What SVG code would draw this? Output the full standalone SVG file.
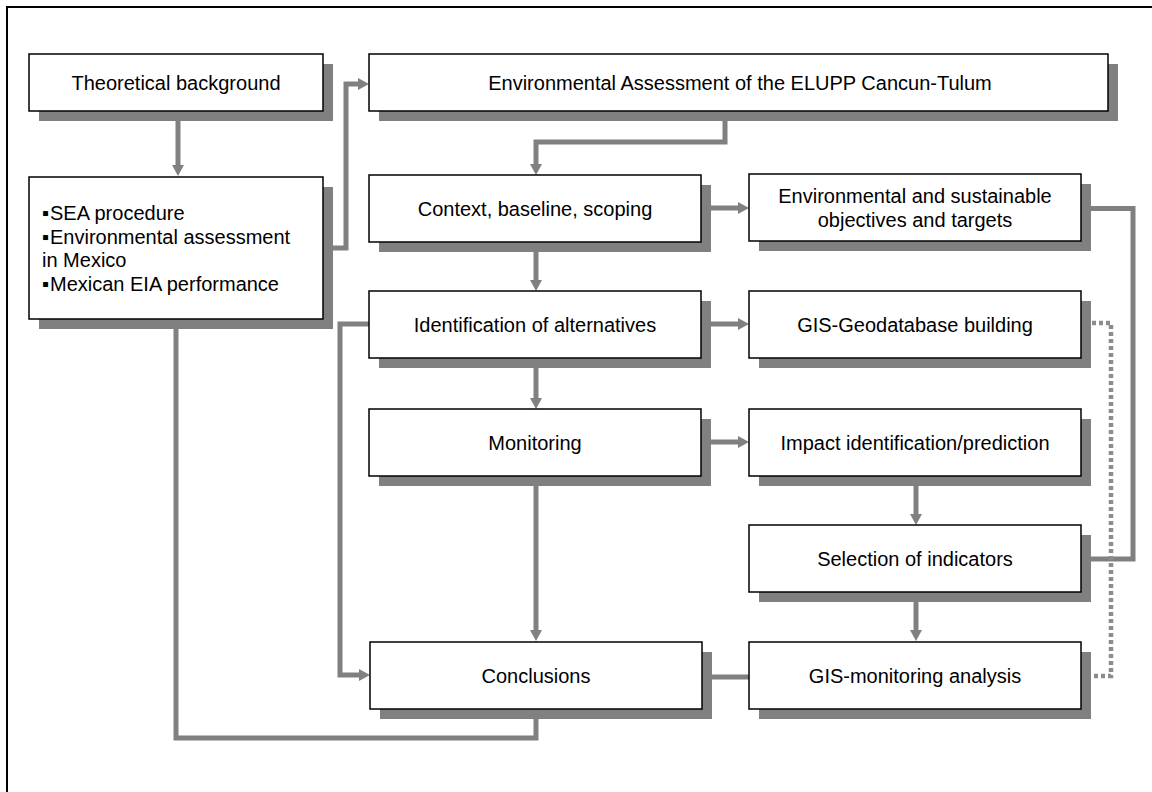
<svg xmlns="http://www.w3.org/2000/svg" width="1152" height="792" viewBox="0 0 1152 792">
<defs>
<style>
.sh{fill:#808080}
.bx{fill:#fff;stroke:#000;stroke-width:1.5}
.t{font-family:"Liberation Sans",Arial,sans-serif;font-size:20px;fill:#000;text-anchor:middle}
.tl{font-family:"Liberation Sans",Arial,sans-serif;font-size:20px;fill:#000}
.c{fill:none;stroke:#808080;stroke-width:5}
.a{marker-end:url(#ah)}
.d{fill:none;stroke:#8c8c8c;stroke-width:4.5;stroke-dasharray:4 3}
</style>
<marker id="ah" viewBox="0 0 11 12" refX="0" refY="6" markerWidth="11" markerHeight="12" markerUnits="userSpaceOnUse" orient="auto">
<path d="M0,0 L11,6 L0,12 z" fill="#808080"/>
</marker>
</defs>
<rect width="1152" height="792" fill="#fff"/>
<path d="M7,800 V7 H1160" fill="none" stroke="#000" stroke-width="2"/>
<g id="connectors">
<path class="c a" d="M178,111 V165"/>
<path class="c a" d="M323,248 H346 V84 H358"/>
<path class="c a" d="M725,111 V142 H536 V164"/>
<path class="c a" d="M702,208 H738"/>
<path class="c a" d="M536,242 V280"/>
<path class="c a" d="M702,324 H738"/>
<path class="c a" d="M536,358 V398"/>
<path class="c a" d="M702,442 H738"/>
<path class="c a" d="M536,476 V630"/>
<path class="c a" d="M916,476 V514"/>
<path class="c a" d="M916,592 V630"/>
<path class="c a" d="M369,324 H340 V675 H359"/>
<path class="c" d="M176,319 V738 H536 V708"/>
<path class="c" d="M702,677 H749"/>
<path class="c" d="M1082,208.5 H1133 V559 H1082"/>
<path class="d" d="M1092,323 H1111 V676 H1092"/>
</g>
<g id="n1"><rect class="sh" x="39" y="64" width="294" height="57"/><rect class="bx" x="29" y="54" width="294" height="57"/><text class="t" x="176" y="89.5">Theoretical background</text></g>
<g id="n2"><rect class="sh" x="39" y="187" width="294" height="142"/><rect class="bx" x="29" y="177" width="294" height="142"/>
<text class="tl"><tspan x="42" y="220">▪</tspan><tspan x="50" y="220">SEA procedure</tspan><tspan x="42" y="243.5">▪</tspan><tspan x="50" y="243.5">Environmental assessment</tspan><tspan x="42" y="267">in Mexico</tspan><tspan x="42" y="290.5">▪</tspan><tspan x="50" y="290.5">Mexican EIA performance</tspan></text></g>
<g id="n3"><rect class="sh" x="379" y="64" width="739" height="57"/><rect class="bx" x="369" y="54" width="739" height="57"/><text class="t" x="740" y="89.5">Environmental Assessment of the ELUPP Cancun-Tulum</text></g>
<g id="n4"><rect class="sh" x="379" y="185" width="332" height="67"/><rect class="bx" x="369" y="175" width="332" height="67"/><text class="t" x="535" y="216">Context, baseline, scoping</text></g>
<g id="n5"><rect class="sh" x="759" y="184" width="332" height="67"/><rect class="bx" x="749" y="174" width="332" height="67"/><text class="t" x="915" y="203">Environmental and sustainable</text><text class="t" x="915" y="227">objectives and targets</text></g>
<g id="n6"><rect class="sh" x="379" y="301" width="332" height="67"/><rect class="bx" x="369" y="291" width="332" height="67"/><text class="t" x="535" y="332">Identification of alternatives</text></g>
<g id="n7"><rect class="sh" x="759" y="301" width="332" height="67"/><rect class="bx" x="749" y="291" width="332" height="67"/><text class="t" x="915" y="332">GIS-Geodatabase building</text></g>
<g id="n8"><rect class="sh" x="379" y="419" width="332" height="67"/><rect class="bx" x="369" y="409" width="332" height="67"/><text class="t" x="535" y="450">Monitoring</text></g>
<g id="n9"><rect class="sh" x="759" y="419" width="332" height="67"/><rect class="bx" x="749" y="409" width="332" height="67"/><text class="t" x="915" y="450">Impact identification/prediction</text></g>
<g id="n10"><rect class="sh" x="759" y="535" width="332" height="67"/><rect class="bx" x="749" y="525" width="332" height="67"/><text class="t" x="915" y="566">Selection of indicators</text></g>
<g id="n11"><rect class="sh" x="380" y="652" width="332" height="67"/><rect class="bx" x="370" y="642" width="332" height="67"/><text class="t" x="536" y="682.5">Conclusions</text></g>
<g id="n12"><rect class="sh" x="759" y="652" width="332" height="67"/><rect class="bx" x="749" y="642" width="332" height="67"/><text class="t" x="915" y="682.5">GIS-monitoring analysis</text></g>
</svg>
